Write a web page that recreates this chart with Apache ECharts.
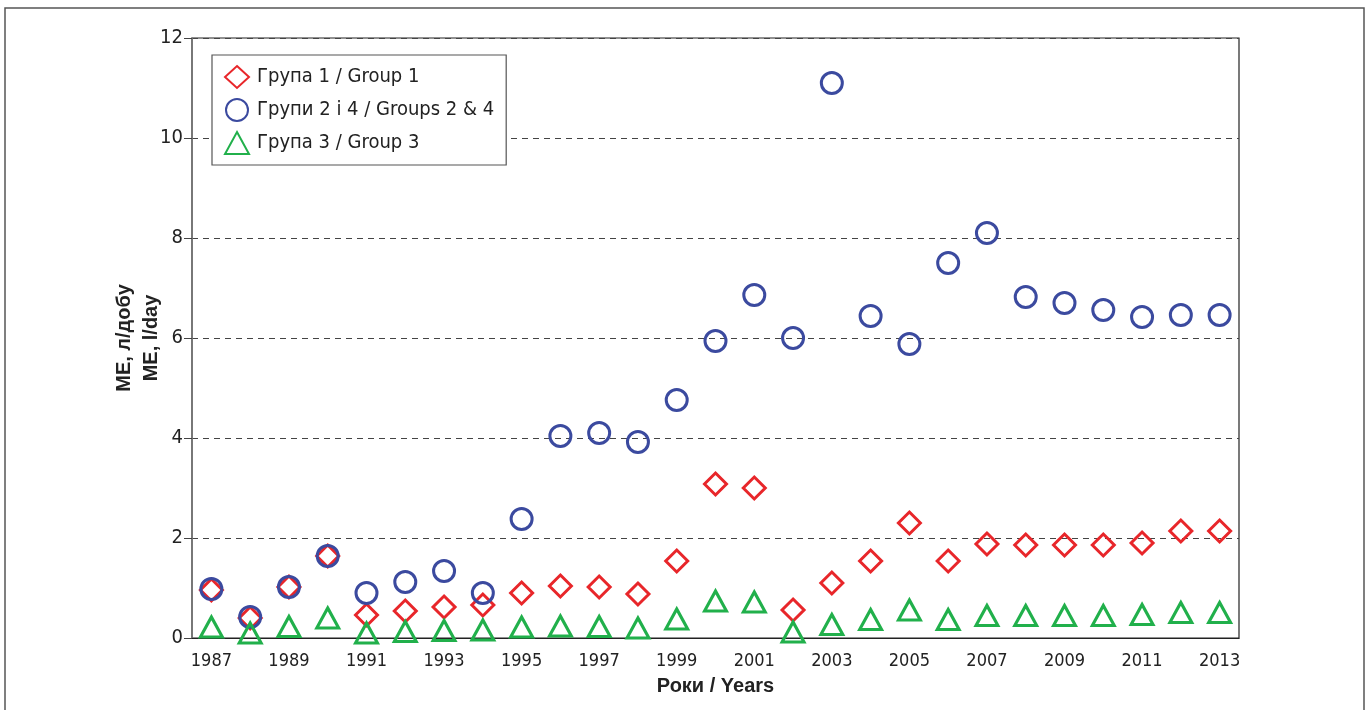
<!DOCTYPE html>
<html>
<head>
<meta charset="utf-8">
<script src="https://cdn.jsdelivr.net/npm/echarts@6/dist/echarts.min.js"></script>
<style>html,body{margin:0;padding:0;background:#fff}#c{width:1370px;height:710px}</style>
</head>
<body>
<div id="c"></div>
<script>
var years = ['1987','1988','1989','1990','1991','1992','1993','1994','1995','1996','1997','1998','1999','2000','2001','2002','2003','2004','2005','2006','2007','2008','2009','2010','2011','2012','2013'];
var group1 = [0.96,0.40,1.02,1.64,0.46,0.54,0.62,0.66,0.90,1.04,1.02,0.88,1.54,3.08,3.00,0.56,1.10,1.54,2.30,1.54,1.88,1.86,1.86,1.86,1.90,2.14,2.14];
var group24 = [0.98,0.42,1.02,1.64,0.90,1.12,1.34,0.90,2.38,4.04,4.10,3.92,4.76,5.94,6.86,6.00,11.10,6.44,5.88,7.50,8.10,6.82,6.70,6.56,6.42,6.46,6.46];
var group3 = [0.22,0.10,0.23,0.40,0.10,0.13,0.15,0.16,0.22,0.24,0.23,0.20,0.38,0.74,0.72,0.12,0.27,0.37,0.56,0.37,0.45,0.45,0.45,0.45,0.47,0.51,0.51];
var names = ['Група 1 / Group 1','Групи 2 і 4 / Groups 2 & 4','Група 3 / Group 3'];
var yTicks = [0,2,4,6,8,10,12];

var chart = echarts.init(document.getElementById('c'));
var narrow = '"DejaVu Sans Condensed","Liberation Sans Narrow",sans-serif';
var RED = '#e8262a', BLUE = '#3b4a9f', GREEN = '#21b04b';
function sc(name, data, symbol, size, color) {
  return {
    name: name, type: 'scatter', data: data, symbol: symbol, symbolSize: size,
    itemStyle: { color: 'transparent', borderColor: color, borderWidth: 3, opacity: 1 },
    emphasis: { disabled: true },
    z: 3
  };
}
chart.setOption({
  animation: false,
  graphic: [{
    type: 'rect', shape: { x: 5, y: 8, width: 1359, height: 720 },
    style: { fill: 'none', stroke: '#555', lineWidth: 1.5 }, z: -1
  }],
  grid: { left: 192, top: 38, width: 1047, height: 600, show: true, borderColor: '#222', borderWidth: 1.2, backgroundColor: 'transparent' },
  legend: {
    orient: 'vertical', left: 212, top: 55,
    padding: [10, 12, 10, 12], itemGap: 9, itemWidth: 24, itemHeight: 22,
    borderColor: '#555', borderWidth: 1.2, backgroundColor: '#fff',
    textStyle: { fontFamily: narrow, fontSize: 20, lineHeight: 22, color: '#222', padding: [0,0,0,3] },
    data: names
  },
  xAxis: {
    type: 'category', data: years, boundaryGap: true,
    name: 'Роки / Years', nameLocation: 'middle', nameGap: 38,
    nameTextStyle: { fontFamily: 'Liberation Sans, Arial, sans-serif', fontWeight: 'bold', fontSize: 20, color: '#222' },
    axisLine: { lineStyle: { color: '#222', width: 1.2 } },
    axisTick: { alignWithLabel: true, length: 6, lineStyle: { color: '#444' } },
    axisLabel: { interval: 1, margin: 14, fontFamily: narrow, fontSize: 18, color: '#222' },
    splitLine: { show: false }
  },
  yAxis: {
    type: 'value', min: 0, max: 12, interval: 2,
    name: 'МЕ, л/добу\nМЕ, l/day', nameLocation: 'middle', nameGap: 27, nameRotate: 90,
    nameMoveOverlap: false,
    nameTextStyle: { fontFamily: 'Liberation Sans, Arial, sans-serif', fontWeight: 'bold', fontSize: 20, color: '#222', lineHeight: 27 },
    axisLine: { show: true, lineStyle: { color: '#777', width: 1.5 } },
    axisTick: { show: true, length: 8, lineStyle: { color: '#444' } },
    axisLabel: { margin: 9, fontFamily: narrow, fontSize: 20, color: '#222',
      formatter: function (v) { return yTicks.indexOf(v) >= 0 ? String(v) : ''; } },
    splitLine: { show: true, lineStyle: { color: '#444', type: [6, 5], width: 1 } }
  },
  series: [
    sc(names[0], group1, 'diamond', [22, 22], RED),
    sc(names[1], group24, 'circle', 21, BLUE),
    sc(names[2], group3, 'triangle', [22, 20], GREEN)
  ]
});
</script>
</body>
</html>
